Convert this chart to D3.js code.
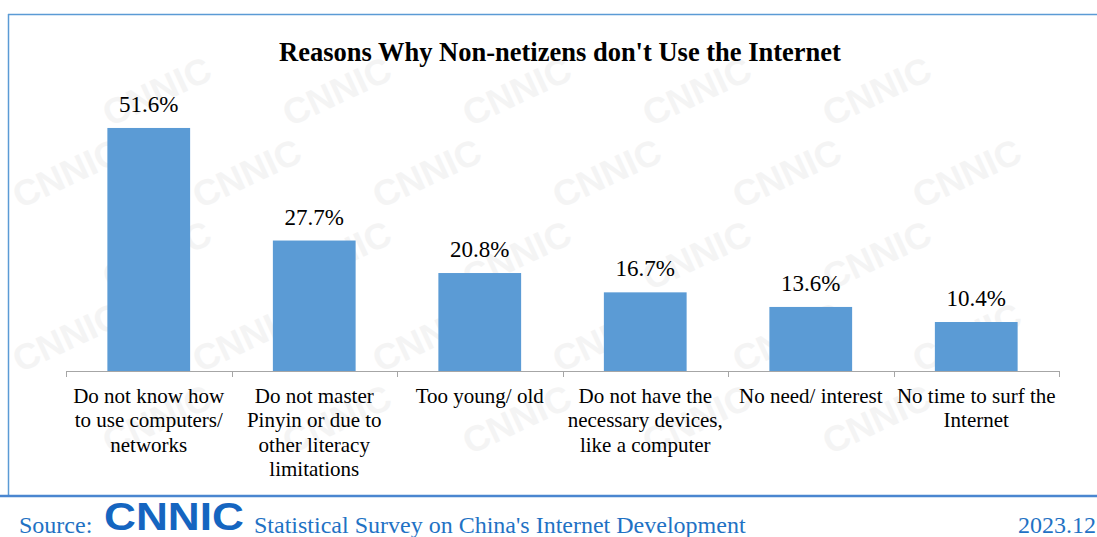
<!DOCTYPE html>
<html><head><meta charset="utf-8">
<script src="https://cdn.jsdelivr.net/npm/d3@7"></script>
<style>body{margin:0;background:#fff;}svg{display:block;}</style>
</head><body>
<svg id="chart" width="1097" height="537"></svg>
<script>
const title = "Reasons Why Non-netizens don't Use the Internet";
const categories = [
  ["Do not know how","to use computers/","networks"],
  ["Do not master","Pinyin or due to","other literacy","limitations"],
  ["Too young/ old"],
  ["Do not have the","necessary devices,","like a computer"],
  ["No need/ interest"],
  ["No time to surf the","Internet"]
];
const values = [51.6, 27.7, 20.8, 16.7, 13.6, 10.4];
const sourceLabel = "Source:";
const logoText = "CNNIC";
const sourceText = "Statistical Survey on China's Internet Development";
const dateText = "2023.12";

const svg = d3.select("#chart");
const serif = "Liberation Serif, Times New Roman, serif";
const blue = "#5b9bd5";

// watermark (only copies that fit fully in the picture)
const wm = svg.append("g").attr("fill","#f4f4f4").attr("font-family","Liberation Sans, Arial, sans-serif")
  .attr("font-weight","bold").attr("font-size",36);
for (let r = -1; r < 8; r++) {
  for (let c = -1; c < 8; c++) {
    const x = c * 180 + (r % 2 ? 90 : 0) + 20;
    const y = r * 82 + 45;
    const t = wm.append("text").attr("x",x).attr("y",y).attr("transform",`rotate(-25,${x},${y})`)
      .attr("textLength",115).attr("lengthAdjust","spacingAndGlyphs").text("CNNIC");
    const b = t.node().getBoundingClientRect();
    if (b.left < 0 || b.top < 0 || b.right > 1097 || b.bottom > 537) t.remove();
  }
}

// frame
svg.append("line").attr("x1",8).attr("x2",1097).attr("y1",14.5).attr("y2",14.5).attr("stroke",blue).attr("stroke-width",1.5);
svg.append("line").attr("x1",8.5).attr("x2",8.5).attr("y1",14).attr("y2",496).attr("stroke",blue).attr("stroke-width",1.5);
svg.append("line").attr("x1",0).attr("x2",1097).attr("y1",496).attr("y2",496).attr("stroke","#4a86d0").attr("stroke-width",2.5);

// title
svg.append("text").attr("x",560).attr("y",61).attr("text-anchor","middle")
  .attr("font-family",serif).attr("font-weight","bold").attr("font-size",26.5).text(title);

const x0 = 66, x1 = 1059, base = 371;
const x = d3.scaleBand().domain(d3.range(values.length)).range([x0,x1]).paddingInner(0.5).paddingOuter(0.25);
const y = d3.scaleLinear().domain([0,60]).range([base, base - 282.6]);

svg.append("g").selectAll("rect").data(values).join("rect")
  .attr("x",(d,i)=>x(i)).attr("width",x.bandwidth())
  .attr("y",d=>y(d)).attr("height",d=>base-y(d)).attr("fill",blue);

// axis
const step = (x1-x0)/values.length;
const axis = svg.append("g");
axis.append("line").attr("x1",x0).attr("x2",x1).attr("y1",base+0.5).attr("y2",base+0.5).attr("stroke","#a6a6a6").attr("stroke-width",1);
d3.range(values.length+1).forEach(i=>{
  const tx = Math.round(x0 + i*step)+0.5;
  axis.append("line").attr("x1",tx).attr("x2",tx).attr("y1",base).attr("y2",base+6).attr("stroke","#a6a6a6");
});

// value labels
svg.append("g").selectAll("text").data(values).join("text")
  .attr("x",(d,i)=>x(i)+x.bandwidth()/2).attr("y",d=>y(d)-16)
  .attr("text-anchor","middle").attr("font-family",serif).attr("font-size",23)
  .text(d=>d.toFixed(1)+"%");

// category labels
const cl = svg.append("g").attr("font-family",serif).attr("font-size",21).attr("text-anchor","middle");
categories.forEach((lines,i)=>{
  const cx = x(i)+x.bandwidth()/2;
  lines.forEach((ln,j)=>{
    cl.append("text").attr("x",cx).attr("y",403+j*24.3).text(ln);
  });
});

// source
const srcColor = "#1f72c4";
svg.append("text").attr("x",19).attr("y",533).attr("font-family",serif).attr("font-size",24).attr("fill",srcColor).text(sourceLabel);
svg.append("text").attr("x",104).attr("y",530).attr("font-family","Liberation Sans, Arial, sans-serif").attr("font-weight","bold")
  .attr("font-size",38).attr("fill","#1565c0").attr("textLength",140).attr("lengthAdjust","spacingAndGlyphs").text(logoText);
svg.append("text").attr("x",254).attr("y",533).attr("font-family",serif).attr("font-size",24).attr("fill",srcColor).text(sourceText);
svg.append("text").attr("x",1096).attr("y",533).attr("text-anchor","end").attr("font-family",serif).attr("font-size",24).attr("fill",srcColor).text(dateText);
</script>
</body></html>
